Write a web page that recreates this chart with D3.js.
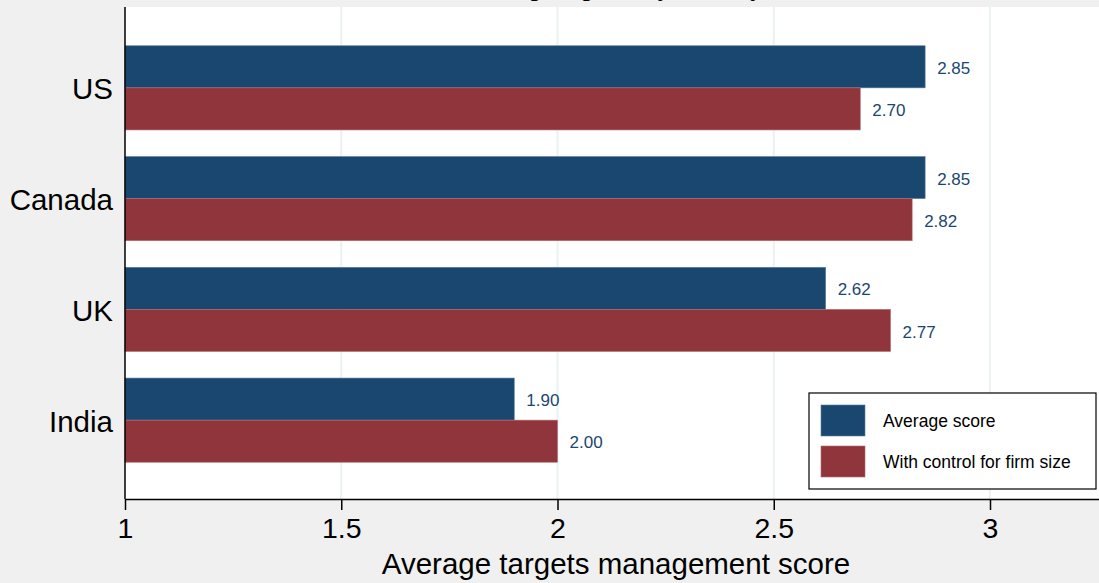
<!DOCTYPE html>
<html>
<head>
<meta charset="utf-8">
<script src="https://cdn.jsdelivr.net/npm/d3@7"></script>
<style>
  body { margin: 0; background: #f0f0f0; }
  svg { display: block; font-family: "Liberation Sans", Arial, sans-serif; }
</style>
</head>
<body>
<svg id="chart_svg" width="1099" height="583">
  <g id="g_plot"></g>
  <g id="g_x_axis"></g>
  <g id="g_legend"></g>
</svg>
<script>
// Data
const countries = ["US", "Canada", "UK", "India"]
const averageScore = [2.85, 2.85, 2.62, 1.90]
const controlScore = [2.70, 2.82, 2.77, 2.00]
const seriesNames = ["Average score", "With control for firm size"]
const xTicks = [1, 1.5, 2, 2.5, 3]
const titleText = "Setting targets, by country"
const xTitle = "Average targets management score"

const colors = ["#1a476f", "#90353b"]

const margin = { top: 7, bottom: 84, left: 125, right: 0 }

let svg = d3.select("#chart_svg")
let width = +svg.attr("width")
let height = +svg.attr("height")
let g_plot = d3.select("#g_plot")
let g_x_axis = d3.select("#g_x_axis")
let g_legend = d3.select("#g_legend")

const plotBottom = height - margin.bottom

/**
 * Scales
 */
const xScale = d3.scaleLinear()
  .domain([1, 3.252])
  .range([margin.left, width - margin.right])

const yScale = d3.scalePoint()
  .domain(countries)
  .range([margin.top, plotBottom + 2])
  .padding(0.73)

const barH = yScale.step() * 0.38

// rows: one per country with both values
const rows = countries.map((c, i) => ({ country: c, vals: [averageScore[i], controlScore[i]] }))

/**
 * Title (mostly clipped at the top of the picture)
 */
svg.append("text")
  .attr("x", 612)
  .attr("y", -4)
  .attr("text-anchor", "middle")
  .attr("font-size", 26)
  .attr("fill", "#000")
  .text(titleText)

/**
 * Plot region
 */
g_plot.append("rect")
  .attr("x", margin.left)
  .attr("y", margin.top)
  .attr("width", width - margin.left - margin.right)
  .attr("height", plotBottom - margin.top)
  .attr("fill", "#ffffff")

// grid lines
g_plot.selectAll(".grid")
  .data(xTicks.filter(t => t > 1))
  .enter()
  .append("line")
  .attr("class", "grid")
  .attr("x1", d => xScale(d))
  .attr("x2", d => xScale(d))
  .attr("y1", margin.top)
  .attr("y2", plotBottom)
  .attr("stroke", "#eaf2f3")
  .attr("stroke-width", 2)

/**
 * Bars
 */
let groups = g_plot.selectAll(".bar_group")
  .data(rows)
  .enter()
  .append("g")
  .attr("class", "bar_group")
  .attr("transform", d => `translate(0, ${yScale(d.country)})`)

groups.each(function (d) {
  const group = d3.select(this)

  group.selectAll(".bar")
    .data(d.vals)
    .enter()
    .append("rect")
    .attr("class", "bar")
    .attr("x", xScale(1))
    .attr("y", (v, i) => (i === 0 ? -barH : 0))
    .attr("width", v => xScale(v) - xScale(1))
    .attr("height", barH)
    .attr("fill", (v, i) => colors[i])
    .attr("stroke", (v, i) => (i === 0 ? "#5c7f9f" : "#b06c71"))
    .attr("stroke-width", 0.6)

  group.selectAll(".bar_label")
    .data(d.vals)
    .enter()
    .append("text")
    .attr("class", "bar_label")
    .attr("x", v => xScale(v) + 12)
    .attr("y", (v, i) => (i === 0 ? -barH / 2 + 1 : barH / 2 + 1))
    .attr("dy", "0.36em")
    .attr("font-size", 17)
    .attr("fill", "#1a476f")
    .text(v => v.toFixed(2))

  group.append("text")
    .attr("x", margin.left - 12)
    .attr("y", 1)
    .attr("dy", "0.36em")
    .attr("text-anchor", "end")
    .attr("font-size", 29.5)
    .attr("fill", "#000")
    .text(d.country)
})

// left axis line
g_plot.append("line")
  .attr("x1", margin.left)
  .attr("x2", margin.left)
  .attr("y1", margin.top)
  .attr("y2", plotBottom)
  .attr("stroke", "#000")
  .attr("stroke-width", 1.5)

/**
 * X axis
 */
let x_axis = d3.axisBottom(xScale)
  .tickValues(xTicks)
  .tickFormat(d3.format("~g"))
  .tickSize(11)
  .tickSizeOuter(0)
  .tickPadding(8)

g_x_axis
  .attr("transform", `translate(0, ${plotBottom})`)
  .call(x_axis)

g_x_axis.select(".domain").attr("stroke", "#000").attr("stroke-width", 1.5)
g_x_axis.selectAll(".tick line").attr("stroke", "#000").attr("stroke-width", 1.5)
g_x_axis.selectAll(".tick text")
  .attr("font-size", 28.5)
  .attr("font-family", "Liberation Sans, Arial, sans-serif")
  .attr("fill", "#000")

svg.append("text")
  .attr("x", 616)
  .attr("y", 574)
  .attr("text-anchor", "middle")
  .attr("font-size", 29.5)
  .attr("fill", "#000")
  .text(xTitle)

/**
 * Legend
 */
g_legend.attr("transform", "translate(809, 393)")

g_legend.append("rect")
  .attr("width", 287)
  .attr("height", 96)
  .attr("fill", "#fff")
  .attr("stroke", "#000")
  .attr("stroke-width", 1.2)

let items = g_legend.selectAll(".legend_item")
  .data(seriesNames)
  .enter()
  .append("g")
  .attr("class", "legend_item")
  .attr("transform", (d, i) => `translate(12, ${12 + i * 41})`)

items.append("rect")
  .attr("width", 44)
  .attr("height", 31)
  .attr("fill", (d, i) => colors[i])
  .attr("stroke", (d, i) => (i === 0 ? "#5c7f9f" : "#b06c71"))
  .attr("stroke-width", 0.6)

items.append("text")
  .attr("x", 62)
  .attr("y", 16)
  .attr("dy", "0.36em")
  .attr("font-size", 17.5)
  .attr("fill", "#000")
  .text(d => d)
</script>
</body>
</html>
